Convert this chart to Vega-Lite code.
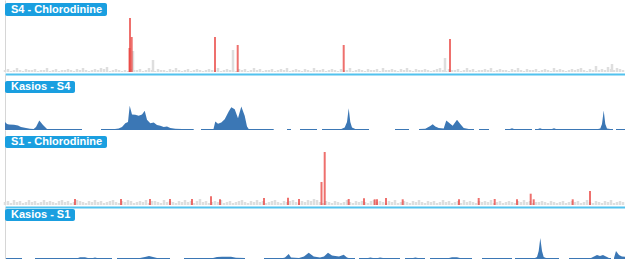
{
  "$schema": "https://vega.github.io/schema/vega-lite/v6.json",
  "padding": {"left": 3, "right": 0, "top": 0, "bottom": 0},
  "spacing": 0,
  "config": {"view": {"stroke": null}, "axis": {"ticks": false, "labels": false, "grid": false}},
  "datasets": {
    "s4bars": [
      {"t":0,"v":2},{"t":3,"v":3},{"t":6,"v":1},{"t":9,"v":2},{"t":12,"v":4},{"t":15,"v":2},{"t":18,"v":1},{"t":21,"v":3},{"t":24,"v":2},{"t":27,"v":2},
      {"t":30,"v":3},{"t":33,"v":1},{"t":36,"v":2},{"t":39,"v":2},{"t":42,"v":4},{"t":45,"v":1},{"t":48,"v":2},{"t":51,"v":3},{"t":54,"v":1},{"t":57,"v":2},
      {"t":60,"v":2},{"t":63,"v":3},{"t":66,"v":2},{"t":69,"v":1},{"t":72,"v":3},{"t":75,"v":2},{"t":78,"v":4},{"t":81,"v":2},{"t":84,"v":1},{"t":87,"v":2},
      {"t":90,"v":3},{"t":93,"v":2},{"t":96,"v":4},{"t":99,"v":3},{"t":102,"v":5},{"t":105,"v":1},{"t":108,"v":2},{"t":111,"v":3},{"t":114,"v":2},{"t":117,"v":1},
      {"t":120,"v":2},{"t":123,"v":1},{"t":126,"v":3},{"t":129,"v":2},{"t":132,"v":2},{"t":135,"v":3},{"t":138,"v":1},{"t":141,"v":2},{"t":144,"v":4},{"t":147,"v":2},
      {"t":150,"v":1},{"t":153,"v":3},{"t":156,"v":2},{"t":159,"v":2},{"t":162,"v":1},{"t":165,"v":3},{"t":168,"v":2},{"t":171,"v":4},{"t":174,"v":2},{"t":177,"v":1},
      {"t":180,"v":2},{"t":183,"v":3},{"t":186,"v":1},{"t":189,"v":2},{"t":192,"v":3},{"t":195,"v":2},{"t":198,"v":1},{"t":201,"v":2},{"t":204,"v":3},{"t":207,"v":2},
      {"t":210,"v":2},{"t":213,"v":4},{"t":216,"v":1},{"t":219,"v":2},{"t":222,"v":3},{"t":225,"v":2},{"t":228,"v":2},{"t":231,"v":1},{"t":234,"v":3},{"t":237,"v":2},
      {"t":240,"v":3},{"t":243,"v":1},{"t":246,"v":2},{"t":249,"v":4},{"t":252,"v":2},{"t":255,"v":3},{"t":258,"v":1},{"t":261,"v":2},{"t":264,"v":2},{"t":267,"v":3},
      {"t":270,"v":1},{"t":273,"v":2},{"t":276,"v":3},{"t":279,"v":2},{"t":282,"v":4},{"t":285,"v":1},{"t":288,"v":2},{"t":291,"v":3},{"t":294,"v":2},{"t":297,"v":1},
      {"t":300,"v":3},{"t":303,"v":2},{"t":306,"v":1},{"t":309,"v":4},{"t":312,"v":2},{"t":315,"v":2},{"t":318,"v":3},{"t":321,"v":1},{"t":324,"v":2},{"t":327,"v":3},
      {"t":330,"v":2},{"t":333,"v":1},{"t":336,"v":3},{"t":339,"v":2},{"t":342,"v":2},{"t":345,"v":4},{"t":348,"v":1},{"t":351,"v":2},{"t":354,"v":3},{"t":357,"v":2},
      {"t":360,"v":1},{"t":363,"v":3},{"t":366,"v":2},{"t":369,"v":2},{"t":372,"v":3},{"t":375,"v":1},{"t":378,"v":4},{"t":381,"v":2},{"t":384,"v":2},{"t":387,"v":3},
      {"t":390,"v":2},{"t":393,"v":1},{"t":396,"v":3},{"t":399,"v":2},{"t":402,"v":4},{"t":405,"v":2},{"t":408,"v":1},{"t":411,"v":3},{"t":414,"v":2},{"t":417,"v":2},
      {"t":420,"v":3},{"t":423,"v":2},{"t":426,"v":1},{"t":429,"v":2},{"t":432,"v":3},{"t":435,"v":4},{"t":438,"v":2},{"t":441,"v":1},{"t":444,"v":3},{"t":447,"v":2},
      {"t":450,"v":2},{"t":453,"v":3},{"t":456,"v":1},{"t":459,"v":2},{"t":462,"v":4},{"t":465,"v":2},{"t":468,"v":3},{"t":471,"v":1},{"t":474,"v":2},{"t":477,"v":2},
      {"t":480,"v":3},{"t":483,"v":2},{"t":486,"v":4},{"t":489,"v":1},{"t":492,"v":2},{"t":495,"v":3},{"t":498,"v":2},{"t":501,"v":2},{"t":504,"v":1},{"t":507,"v":3},
      {"t":510,"v":2},{"t":513,"v":4},{"t":516,"v":2},{"t":519,"v":1},{"t":522,"v":3},{"t":525,"v":2},{"t":528,"v":2},{"t":531,"v":3},{"t":534,"v":1},{"t":537,"v":2},
      {"t":540,"v":3},{"t":543,"v":2},{"t":546,"v":1},{"t":549,"v":4},{"t":552,"v":2},{"t":555,"v":3},{"t":558,"v":2},{"t":561,"v":1},{"t":564,"v":2},{"t":567,"v":3},
      {"t":570,"v":2},{"t":573,"v":3},{"t":576,"v":4},{"t":579,"v":2},{"t":582,"v":1},{"t":585,"v":3},{"t":588,"v":2},{"t":591,"v":6},{"t":594,"v":2},{"t":597,"v":3},
      {"t":600,"v":2},{"t":603,"v":5},{"t":606,"v":3},{"t":609,"v":2},{"t":612,"v":4},{"t":615,"v":3},{"t":618,"v":2},
      {"t":128,"v":21},{"t":148,"v":12},{"t":228,"v":22},{"t":440,"v":14},{"t":607,"v":8}
    ],
    "s4hits": [
      {"t":124.5,"v":24},{"t":125,"v":54},{"t":126.7,"v":35},{"t":210,"v":35},{"t":232.7,"v":27},{"t":338.7,"v":27},{"t":445,"v":33}
    ],
    "s1bars": [
      {"t":0,"v":3},{"t":3,"v":4},{"t":6,"v":2},{"t":9,"v":5},{"t":12,"v":3},{"t":15,"v":4},{"t":18,"v":2},{"t":21,"v":3},{"t":24,"v":5},{"t":27,"v":3},
      {"t":30,"v":4},{"t":33,"v":2},{"t":36,"v":3},{"t":39,"v":5},{"t":42,"v":3},{"t":45,"v":4},{"t":48,"v":3},{"t":51,"v":2},{"t":54,"v":4},{"t":57,"v":5},
      {"t":60,"v":3},{"t":63,"v":4},{"t":66,"v":2},{"t":69,"v":3},{"t":72,"v":5},{"t":75,"v":4},{"t":78,"v":3},{"t":81,"v":2},{"t":84,"v":4},{"t":87,"v":3},
      {"t":90,"v":5},{"t":93,"v":3},{"t":96,"v":4},{"t":99,"v":2},{"t":102,"v":3},{"t":105,"v":4},{"t":108,"v":5},{"t":111,"v":3},{"t":114,"v":2},{"t":117,"v":4},
      {"t":120,"v":3},{"t":123,"v":5},{"t":126,"v":4},{"t":129,"v":2},{"t":132,"v":3},{"t":135,"v":4},{"t":138,"v":3},{"t":141,"v":5},{"t":144,"v":2},{"t":147,"v":4},
      {"t":150,"v":4},{"t":153,"v":3},{"t":156,"v":2},{"t":159,"v":5},{"t":162,"v":3},{"t":165,"v":4},{"t":168,"v":3},{"t":171,"v":2},{"t":174,"v":4},{"t":177,"v":3},
      {"t":180,"v":5},{"t":183,"v":3},{"t":186,"v":4},{"t":189,"v":2},{"t":192,"v":4},{"t":195,"v":6},{"t":198,"v":3},{"t":201,"v":4},{"t":204,"v":2},{"t":207,"v":3},
      {"t":210,"v":4},{"t":213,"v":3},{"t":216,"v":5},{"t":219,"v":2},{"t":222,"v":3},{"t":225,"v":4},{"t":228,"v":2},{"t":231,"v":3},{"t":234,"v":4},{"t":237,"v":5},
      {"t":240,"v":3},{"t":243,"v":2},{"t":246,"v":4},{"t":249,"v":3},{"t":252,"v":5},{"t":255,"v":3},{"t":258,"v":4},{"t":261,"v":2},{"t":264,"v":3},{"t":267,"v":4},
      {"t":270,"v":5},{"t":273,"v":3},{"t":276,"v":2},{"t":279,"v":4},{"t":282,"v":3},{"t":285,"v":4},{"t":288,"v":5},{"t":291,"v":3},{"t":294,"v":2},{"t":297,"v":4},
      {"t":300,"v":3},{"t":303,"v":5},{"t":306,"v":4},{"t":309,"v":6},{"t":312,"v":5},{"t":315,"v":3},{"t":318,"v":2},{"t":321,"v":4},{"t":324,"v":3},{"t":327,"v":2},
      {"t":330,"v":4},{"t":333,"v":3},{"t":336,"v":2},{"t":339,"v":3},{"t":342,"v":5},{"t":345,"v":3},{"t":348,"v":2},{"t":351,"v":4},{"t":354,"v":3},{"t":357,"v":4},
      {"t":360,"v":3},{"t":363,"v":2},{"t":366,"v":4},{"t":369,"v":5},{"t":372,"v":3},{"t":375,"v":4},{"t":378,"v":3},{"t":381,"v":2},{"t":384,"v":4},{"t":387,"v":3},
      {"t":390,"v":5},{"t":393,"v":2},{"t":396,"v":3},{"t":399,"v":4},{"t":402,"v":3},{"t":405,"v":2},{"t":408,"v":4},{"t":411,"v":3},{"t":414,"v":5},{"t":417,"v":3},
      {"t":420,"v":2},{"t":423,"v":4},{"t":426,"v":3},{"t":429,"v":4},{"t":432,"v":2},{"t":435,"v":3},{"t":438,"v":5},{"t":441,"v":3},{"t":444,"v":4},{"t":447,"v":2},
      {"t":450,"v":3},{"t":453,"v":4},{"t":456,"v":2},{"t":459,"v":5},{"t":462,"v":3},{"t":465,"v":4},{"t":468,"v":3},{"t":471,"v":2},{"t":474,"v":4},{"t":477,"v":3},
      {"t":480,"v":4},{"t":483,"v":3},{"t":486,"v":5},{"t":489,"v":2},{"t":492,"v":3},{"t":495,"v":4},{"t":498,"v":2},{"t":501,"v":3},{"t":504,"v":4},{"t":507,"v":3},
      {"t":510,"v":2},{"t":513,"v":4},{"t":516,"v":3},{"t":519,"v":5},{"t":522,"v":3},{"t":525,"v":4},{"t":528,"v":2},{"t":531,"v":3},{"t":534,"v":3},{"t":537,"v":4},
      {"t":540,"v":3},{"t":543,"v":2},{"t":546,"v":4},{"t":549,"v":3},{"t":552,"v":2},{"t":555,"v":3},{"t":558,"v":4},{"t":561,"v":2},{"t":564,"v":3},{"t":567,"v":4},
      {"t":570,"v":3},{"t":573,"v":4},{"t":576,"v":2},{"t":579,"v":3},{"t":582,"v":5},{"t":585,"v":3},{"t":588,"v":2},{"t":591,"v":4},{"t":594,"v":3},{"t":597,"v":2},
      {"t":600,"v":4},{"t":603,"v":3},{"t":606,"v":5},{"t":609,"v":2},{"t":612,"v":3},{"t":615,"v":4},{"t":618,"v":3}
    ],
    "s1hits": [
      {"t":70,"v":6},{"t":116,"v":6},{"t":145,"v":6},{"t":165,"v":6},{"t":187,"v":6},{"t":206,"v":8.7},{"t":215,"v":5.7},{"t":259,"v":7},{"t":283,"v":7.3},{"t":294,"v":6},
      {"t":316.5,"v":23},{"t":319.7,"v":53},{"t":343.7,"v":6},{"t":359,"v":6.7},{"t":369.7,"v":5.7},{"t":372,"v":5.7},{"t":381,"v":7},{"t":397.7,"v":5.7},{"t":454,"v":5.7},
      {"t":473.7,"v":7},{"t":489.7,"v":6},{"t":512,"v":5.7},{"t":525.7,"v":11.3},{"t":528.7,"v":5.7},{"t":567.7,"v":5.7},{"t":585,"v":14}
    ],
    "s4area": [
      {"t":0,"v":8},{"t":2,"v":6},{"t":4,"v":5.4},{"t":9,"v":5.2},{"t":13,"v":4.6},{"t":16,"v":3},{"t":21,"v":2},{"t":25,"v":1.2},{"t":28.7,"v":1},{"t":31,"v":3},{"t":34.3,"v":9.5},{"t":38,"v":5},{"t":42,"v":1},{"t":45,"v":1},{"t":77,"v":1},{"t":78,"v":null},
      {"t":96,"v":1},{"t":110,"v":1},{"t":113.7,"v":1.5},{"t":117,"v":3},{"t":120.3,"v":6.8},{"t":123,"v":8},{"t":124.7,"v":24.2},{"t":127,"v":15.5},{"t":130.3,"v":15.2},{"t":133.7,"v":14.2},{"t":137,"v":15.5},{"t":139.7,"v":19.2},{"t":142,"v":10.2},{"t":145.3,"v":6.8},{"t":148.7,"v":7.5},{"t":152,"v":5},{"t":155.3,"v":4.2},{"t":158.7,"v":3},{"t":162,"v":3.5},{"t":165.3,"v":2},{"t":170.3,"v":1.2},{"t":177,"v":1},{"t":188.7,"v":1},{"t":190,"v":null},
      {"t":196,"v":1},{"t":208.5,"v":1},{"t":210.3,"v":8.5},{"t":213,"v":6.2},{"t":216.3,"v":7.5},{"t":219.7,"v":10.8},{"t":223.7,"v":18.5},{"t":226.3,"v":22.8},{"t":229.7,"v":20.8},{"t":233,"v":11.8},{"t":236.3,"v":23.5},{"t":239.7,"v":14.2},{"t":242,"v":3.5},{"t":243.7,"v":1},{"t":268.7,"v":1},{"t":270,"v":null},
      {"t":282,"v":1},{"t":286,"v":1},{"t":287,"v":null},
      {"t":295,"v":1},{"t":312,"v":1},{"t":313,"v":null},
      {"t":317,"v":1},{"t":336.3,"v":1},{"t":339.7,"v":2.5},{"t":342,"v":8},{"t":343.7,"v":21.8},{"t":345.3,"v":8},{"t":347,"v":2.5},{"t":350.3,"v":1},{"t":364,"v":1},{"t":365,"v":null},
      {"t":390,"v":1},{"t":404,"v":1},{"t":405,"v":null},
      {"t":414,"v":1},{"t":420.3,"v":1.2},{"t":425.3,"v":4},{"t":427.7,"v":5.8},{"t":430.3,"v":3.5},{"t":433.7,"v":2},{"t":438.7,"v":1.5},{"t":441.3,"v":9.5},{"t":444.3,"v":7},{"t":447.7,"v":4.2},{"t":452,"v":10.2},{"t":455.3,"v":6},{"t":458.7,"v":2},{"t":463.7,"v":1},{"t":469,"v":1},{"t":470,"v":null},
      {"t":474,"v":1},{"t":484,"v":1},{"t":485,"v":null},
      {"t":500,"v":1},{"t":505,"v":1},{"t":507,"v":1.8},{"t":509,"v":1},{"t":527,"v":1},{"t":528,"v":null},
      {"t":530,"v":1},{"t":533,"v":1},{"t":535,"v":1.8},{"t":537,"v":1},{"t":547,"v":1},{"t":549,"v":1.8},{"t":551,"v":1},{"t":593,"v":1},{"t":595.3,"v":1.5},{"t":597,"v":6},{"t":598.7,"v":19.5},{"t":600.3,"v":6},{"t":602,"v":1.5},{"t":605.3,"v":1},{"t":608,"v":1},{"t":609,"v":null},
      {"t":611,"v":1},{"t":622,"v":1}
    ],
    "s1area": [
      {"t":1,"v":1},{"t":17,"v":1},{"t":18,"v":null},
      {"t":30,"v":1},{"t":73,"v":1},{"t":75,"v":1.8},{"t":80,"v":1.8},{"t":83,"v":1},{"t":88,"v":1},{"t":90,"v":1.6},{"t":92,"v":1},{"t":107,"v":1},{"t":108,"v":null},
      {"t":112,"v":1},{"t":135,"v":1},{"t":140,"v":2},{"t":144,"v":3},{"t":148,"v":2},{"t":152,"v":1},{"t":165,"v":1},{"t":166,"v":null},
      {"t":179,"v":1},{"t":208,"v":1},{"t":212,"v":2},{"t":217,"v":2.3},{"t":226,"v":2.3},{"t":231,"v":1.2},{"t":240,"v":1},{"t":241,"v":null},
      {"t":259,"v":1},{"t":278,"v":1},{"t":280,"v":1.5},{"t":283.7,"v":5},{"t":286,"v":1.5},{"t":294,"v":1},{"t":299,"v":2.5},{"t":303.7,"v":6.3},{"t":308.7,"v":2.5},{"t":315,"v":1.5},{"t":319,"v":2.5},{"t":323,"v":6.3},{"t":327,"v":3.5},{"t":330.3,"v":3},{"t":334,"v":2.5},{"t":338.7,"v":4.3},{"t":342,"v":1.5},{"t":343.7,"v":1},{"t":350,"v":1},{"t":351,"v":null},
      {"t":354,"v":1},{"t":363,"v":1},{"t":365.3,"v":1.5},{"t":368,"v":1},{"t":373,"v":1},{"t":375,"v":1.5},{"t":378,"v":1},{"t":395,"v":1},{"t":396,"v":null},
      {"t":400,"v":1},{"t":408,"v":1},{"t":410.3,"v":1.5},{"t":413,"v":1},{"t":420,"v":1},{"t":421,"v":null},
      {"t":425,"v":1},{"t":444,"v":1},{"t":447,"v":1.8},{"t":452,"v":1.8},{"t":455,"v":1},{"t":467,"v":1},{"t":468,"v":null},
      {"t":477,"v":1},{"t":507,"v":1},{"t":508,"v":null},
      {"t":510,"v":1},{"t":530,"v":1},{"t":532,"v":2},{"t":533.7,"v":8},{"t":535.3,"v":21},{"t":537,"v":8},{"t":538.7,"v":2},{"t":541,"v":1},{"t":554,"v":1},{"t":555,"v":null},
      {"t":564,"v":1},{"t":586,"v":1},{"t":589,"v":2.5},{"t":592,"v":4},{"t":595,"v":3},{"t":598,"v":4},{"t":601,"v":2.5},{"t":604,"v":1},{"t":606,"v":1},{"t":607,"v":null},
      {"t":609,"v":1},{"t":611,"v":8},{"t":614,"v":4},{"t":617,"v":2.5},{"t":622,"v":2}
    ]
  },
  "vconcat": [
    {
      "width": 622, "height": 72,
      "layer": [
        {"data": {"name": "s4bars"}, "mark": {"type": "rule", "color": "#dedede", "strokeWidth": 2.5},
         "encoding": {
           "x": {"field": "t", "type": "quantitative", "title": null, "scale": {"domain": [0, 622], "nice": false, "zero": false}, "axis": {"orient": "bottom", "domainColor": "#52c2ee", "domainWidth": 2, "offset": 2, "title": null}},
           "y": {"field": "v", "type": "quantitative", "title": null, "scale": {"domain": [0, 72], "nice": false}, "axis": {"domainColor": "#d6d6d6", "domainWidth": 1, "title": null}},
           "y2": {"datum": 0}}},
        {"data": {"name": "s4hits"}, "mark": {"type": "rule", "color": "#e8403c", "strokeWidth": 2, "opacity": 0.75},
         "encoding": {"x": {"field": "t", "type": "quantitative", "title": null}, "y": {"field": "v", "type": "quantitative", "title": null}, "y2": {"datum": 0}}},
        {"data": {"values": [{"label": "S4 - Chlorodinine"}]},
         "layer": [
           {"mark": {"type": "rect", "color": "#1a9fe0", "cornerRadius": 2},
            "encoding": {"x": {"datum": 0}, "x2": {"datum": 102}, "y": {"datum": 69}, "y2": {"datum": 56}}},
           {"mark": {"type": "text", "color": "white", "font": "Liberation Sans", "fontWeight": "bold", "fontSize": 11, "align": "left", "baseline": "middle"},
            "encoding": {"x": {"datum": 6}, "y": {"datum": 62.5}, "text": {"field": "label"}}}
         ]}
      ]
    },
    {
      "width": 622, "height": 56,
      "layer": [
        {"data": {"name": "s4area"}, "mark": {"type": "area", "color": "#3b77b5"},
         "encoding": {
           "x": {"field": "t", "type": "quantitative", "title": null, "scale": {"domain": [0, 622], "nice": false, "zero": false}, "axis": null},
           "y": {"field": "v", "type": "quantitative", "title": null, "scale": {"domain": [0, 56], "nice": false}, "axis": {"domainColor": "#d6d6d6", "domainWidth": 1, "title": null}}}},
        {"data": {"values": [{"label": "Kasios - S4"}]},
         "layer": [
           {"mark": {"type": "rect", "color": "#1a9fe0", "cornerRadius": 2},
            "encoding": {"x": {"datum": 0}, "x2": {"datum": 70}, "y": {"datum": 49}, "y2": {"datum": 37}}},
           {"mark": {"type": "text", "color": "white", "font": "Liberation Sans", "fontWeight": "bold", "fontSize": 11, "align": "left", "baseline": "middle"},
            "encoding": {"x": {"datum": 6}, "y": {"datum": 43}, "text": {"field": "label"}}}
         ]}
      ]
    },
    {
      "width": 622, "height": 75,
      "layer": [
        {"data": {"name": "s1bars"}, "mark": {"type": "rule", "color": "#dedede", "strokeWidth": 2.5},
         "encoding": {
           "x": {"field": "t", "type": "quantitative", "title": null, "scale": {"domain": [0, 622], "nice": false, "zero": false}, "axis": {"orient": "bottom", "domainColor": "#52c2ee", "domainWidth": 2, "offset": 2, "title": null}},
           "y": {"field": "v", "type": "quantitative", "title": null, "scale": {"domain": [0, 75], "nice": false}, "axis": {"domainColor": "#d6d6d6", "domainWidth": 1, "title": null}},
           "y2": {"datum": 0}}},
        {"data": {"name": "s1hits"}, "mark": {"type": "rule", "color": "#e8403c", "strokeWidth": 2, "opacity": 0.75},
         "encoding": {"x": {"field": "t", "type": "quantitative", "title": null}, "y": {"field": "v", "type": "quantitative", "title": null}, "y2": {"datum": 0}}},
        {"data": {"values": [{"label": "S1 - Chlorodinine"}]},
         "layer": [
           {"mark": {"type": "rect", "color": "#1a9fe0", "cornerRadius": 2},
            "encoding": {"x": {"datum": 0}, "x2": {"datum": 102}, "y": {"datum": 69}, "y2": {"datum": 57}}},
           {"mark": {"type": "text", "color": "white", "font": "Liberation Sans", "fontWeight": "bold", "fontSize": 11, "align": "left", "baseline": "middle"},
            "encoding": {"x": {"datum": 6}, "y": {"datum": 63}, "text": {"field": "label"}}}
         ]}
      ]
    },
    {
      "width": 622, "height": 52,
      "layer": [
        {"data": {"name": "s1area"}, "mark": {"type": "area", "color": "#3b77b5"},
         "encoding": {
           "x": {"field": "t", "type": "quantitative", "title": null, "scale": {"domain": [0, 622], "nice": false, "zero": false}, "axis": null},
           "y": {"field": "v", "type": "quantitative", "title": null, "scale": {"domain": [0, 52], "nice": false}, "axis": {"domainColor": "#d6d6d6", "domainWidth": 1, "title": null}}}},
        {"data": {"values": [{"label": "Kasios - S1"}]},
         "layer": [
           {"mark": {"type": "rect", "color": "#1a9fe0", "cornerRadius": 2},
            "encoding": {"x": {"datum": 0}, "x2": {"datum": 70}, "y": {"datum": 50}, "y2": {"datum": 38}}},
           {"mark": {"type": "text", "color": "white", "font": "Liberation Sans", "fontWeight": "bold", "fontSize": 11, "align": "left", "baseline": "middle"},
            "encoding": {"x": {"datum": 6}, "y": {"datum": 44}, "text": {"field": "label"}}}
         ]}
      ]
    }
  ]
}
